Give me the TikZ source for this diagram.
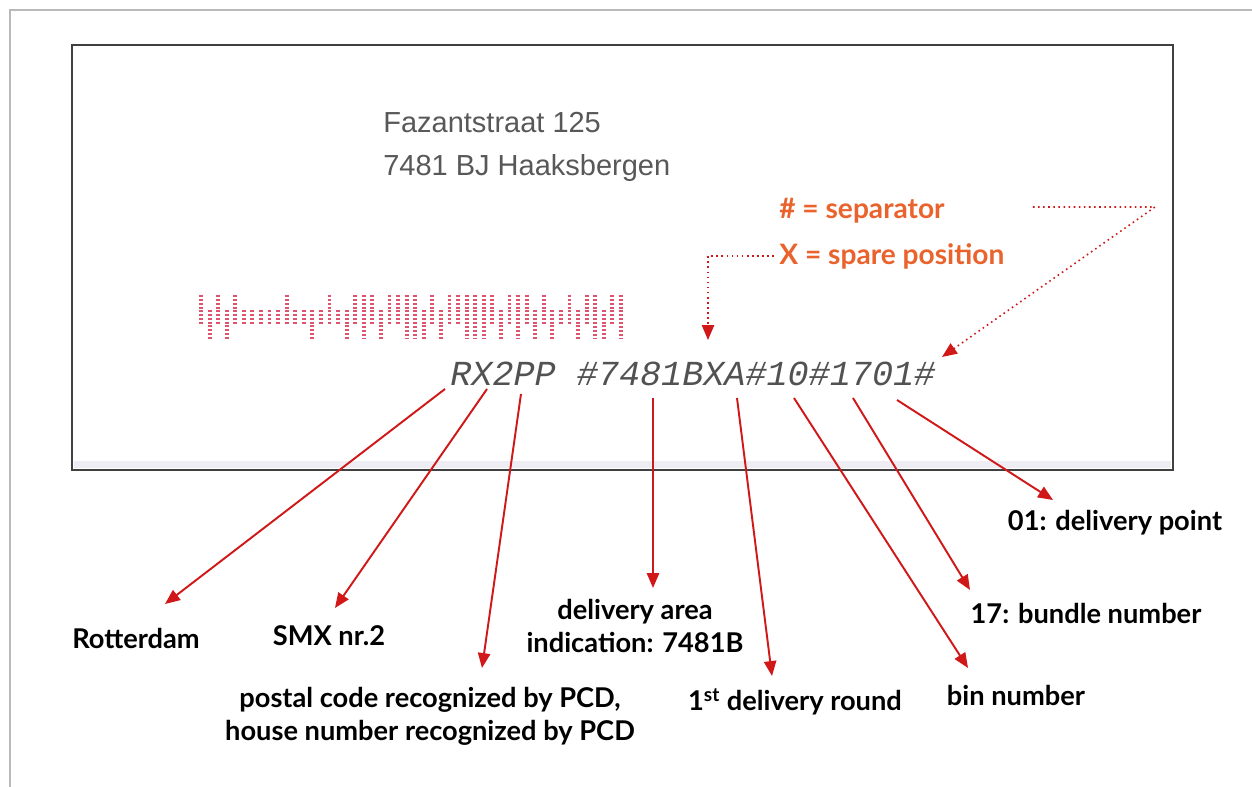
\documentclass[tikz,border=0pt]{standalone}
\usepackage{fontspec}
\setmainfont{Lato}
\newfontfamily\addrfont{Liberation Sans}
\newfontfamily\dotfont{Liberation Mono}
\usepackage{tikz}
\usetikzlibrary{positioning}
\usetikzlibrary{backgrounds}
\usetikzlibrary{calc}
\usetikzlibrary{arrows.meta}

\definecolor{arrowred}{RGB}{208,24,24}
\definecolor{keyorange}{RGB}{234,98,44}
\definecolor{barpink}{RGB}{222,84,110}
\definecolor{addrgray}{RGB}{88,88,88}

\begin{document}
\begin{tikzpicture}[x=0.02cm,y=-0.02cm,
		note/.style={font=\bfseries\fontsize{15.5}{18.7}\selectfont, align=center, inner sep=0pt},
		keytext/.style={font=\bfseries\fontsize{16}{20}\selectfont, text=keyorange, anchor=west, inner sep=0pt},
		addr/.style={font=\addrfont\fontsize{16.5}{20}\selectfont, text=addrgray, anchor=base west, inner sep=0pt},
		pointer/.style={arrowred, line width=1.1pt, -{Triangle[length=8.5pt,width=7pt]}},
		hint/.style={arrowred, line width=0.9pt, dotted, -{Triangle[length=8.5pt,width=7pt]}},
		barline/.style={barpink, line width=2.2pt, dash pattern=on 1.1pt off 1.1pt}]

		\useasboundingbox (0,0) rectangle (1252,787);

		% envelope with its printed address and code
		\node[addr] at (383,133) (street) {Fazantstraat 125};
		\node[addr] at (383,176) (town) {7481 BJ Haaksbergen};

		\node[font=\dotfont\itshape\fontsize{20}{24}\selectfont, text=black!68, anchor=base west, inner sep=0pt] at (450,386) (code)
		{RX2PP \#7481BXA\#10\#1701\#};

		\node[keytext] at (779,211) (sep) {\# = separator};
		\node[keytext] at (779,256) (spare) {X = spare position};

		% four-state dot bars
		\foreach \s [count=\i from 0] in {1,2,1,2,1,3,3,3,3,3,1,3,3,2,3,1,3,2,1,0,1,2,1,1,0,0,2,1,2,1,1,0,0,0,1,2,1,0,1,2,1,2,3,1,2,1,0,2,1,0} {
			\pgfmathsetmacro{\ytop}{(\s==0 || \s==1) ? 295 : 310}
			\pgfmathsetmacro{\ybot}{(\s==0 || \s==2) ? 340 : 325}
			\draw[barline] (201+\i*8.57,\ytop) -- (201+\i*8.57,\ybot);
		}

		% labels below the envelope
		\node[note] at (136,638) (rot) {Rotterdam};
		\node[note] at (329,636) (smx) {SMX nr.2};
		\node[note] at (430,716) (pcd) {postal code recognized by PCD,\\house number recognized by PCD};
		\node[note] at (635,626) (area) {delivery area\\indication: 7481B};
		\node[note] at (795,702) (round) {1\textsuperscript{st} delivery round};
		\node[note] at (1016,695) (bin) {bin number};
		\node[note] at (1086,613) (bundle) {17: bundle number};
		\node[note] at (1115,523) (point) {01: delivery point};

		% where the pointers leave the code
		\coordinate (cR) at (445,389);
		\coordinate (cX) at (487,389);
		\coordinate (c2) at (521,394);
		\coordinate (cArea) at (653,398);
		\coordinate (cA) at (737,398);
		\coordinate (cBin) at (794,398);
		\coordinate (cBundle) at (853,398);
		\coordinate (cPoint) at (897,400);

		% and where they end
		\coordinate (tRot) at (165,604);
		\coordinate (tSmx) at (335,608);
		\coordinate (tPcd) at (482,668);
		\coordinate (tArea) at (653,588);
		\coordinate (tRound) at (772,676);
		\coordinate (tBin) at (968,668);
		\coordinate (tBundle) at (970,590);
		\coordinate (tPoint) at (1053,500);

		\coordinate (bend) at (1155,207);
		\coordinate (hashtip) at (942,357);
		\coordinate (xtip) at (708,340);

		\draw[pointer] (cR) -- (tRot);
		\draw[pointer] (cX) -- (tSmx);
		\draw[pointer] (c2) -- (tPcd);
		\draw[pointer] (cArea) -- (tArea);
		\draw[pointer] (cA) -- (tRound);
		\draw[pointer] (cBin) -- (tBin);
		\draw[pointer] (cBundle) -- (tBundle);
		\draw[pointer] (cPoint) -- (tPoint);

		\draw[hint] ($(sep.east)+(88,-4)$) -- (bend) -- (hashtip);
		\draw[hint] ($(spare.west)+(-5,0)$) -| (xtip);

		\begin{scope}[on background layer]
			\draw[gray!55, line width=0.8pt] (1252,10) -- (10,10) -- (10,787);
			\draw[fill=white, draw=black!75, line width=1pt] (72,45) rectangle (1173,470);
			\fill[blue!20!gray!12] (74,461) rectangle (1171,468);
		\end{scope}
	\end{tikzpicture}
\end{document}
